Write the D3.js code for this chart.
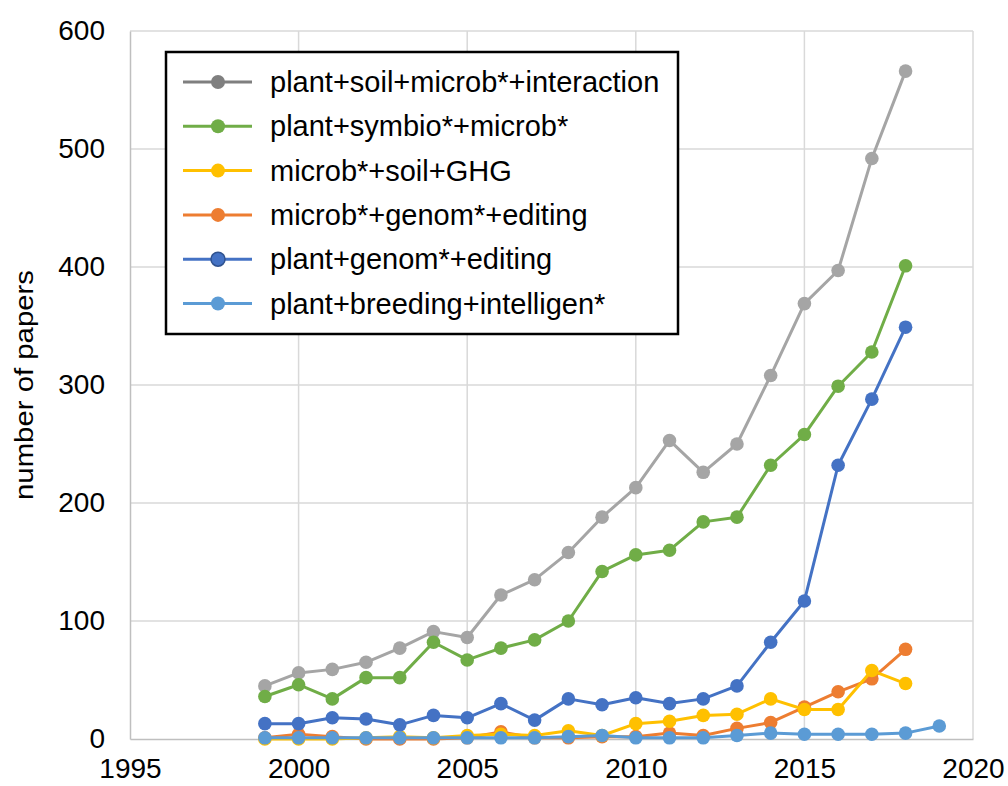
<!DOCTYPE html>
<html>
<head>
<meta charset="utf-8">
<script src="https://cdn.jsdelivr.net/npm/d3@7"></script>
<style>
  body { margin: 0; background: #fff; }
  text { font-family: "Liberation Sans", Arial, Helvetica, sans-serif; }
</style>
</head>
<body>
<div id="chart"></div>
<script>
// years and counts
var years = [1999, 2000, 2001, 2002, 2003, 2004, 2005, 2006, 2007, 2008,
             2009, 2010, 2011, 2012, 2013, 2014, 2015, 2016, 2017, 2018];
var yearsLong = years.concat([2019]);

var soilInteraction = [45, 56, 59, 65, 77, 91, 86, 122, 135, 158,
                       188, 213, 253, 226, 250, 308, 369, 397, 492, 566];
var symbioMicrob = [36, 46, 34, 52, 52, 82, 67, 77, 84, 100,
                    142, 156, 160, 184, 188, 232, 258, 299, 328, 401];
var soilGHG = [0, 0, 0, 1, 2, 1, 3, 4, 3, 7,
               3, 13, 15, 20, 21, 34, 25, 25, 58, 47];
var microbEditing = [1, 4, 2, 0, 0, 0, 1, 6, 1, 1,
                     2, 2, 5, 3, 9, 14, 27, 40, 51, 76];
var plantEditing = [13, 13, 18, 17, 12, 20, 18, 30, 16, 34,
                    29, 35, 30, 34, 45, 82, 117, 232, 288, 349];
var breedingIntel = [1, 1, 1, 1, 1, 1, 1, 1, 1, 2,
                     3, 1, 1, 1, 3, 5, 4, 4, 4, 5, 11];

var xTicks = [1995, 2000, 2005, 2010, 2015, 2020];
var yTicks = [0, 100, 200, 300, 400, 500, 600];

var series = [
  { name: 'plant+soil+microb*+interaction', x: years, y: soilInteraction, color: '#a5a5a5', key: '#7f7f7f' },
  { name: 'plant+symbio*+microb*', x: years, y: symbioMicrob, color: '#70ad47' },
  { name: 'microb*+genom*+editing', x: years, y: microbEditing, color: '#ed7d31' },
  { name: 'microb*+soil+GHG', x: years, y: soilGHG, color: '#ffc000' },
  { name: 'plant+genom*+editing', x: years, y: plantEditing, color: '#4472c4', ring: '#2f528f' },
  { name: 'plant+breeding+intelligen*', x: yearsLong, y: breedingIntel, color: '#5b9bd5' }
];
var legendOrder = [0, 1, 3, 2, 4, 5];

var width = 1008, height = 786;
var margin = { left: 130, right: 35, top: 31, bottom: 47 };

var svg = d3.select('#chart').append('svg')
  .attr('width', width).attr('height', height);

var x = d3.scaleLinear().domain([1995, 2020]).range([margin.left, width - margin.right]);
var y = d3.scaleLinear().domain([0, 600]).range([height - margin.bottom, margin.top]);

// grid
svg.append('g').selectAll('line.h').data(yTicks.slice(1)).enter().append('line')
  .attr('x1', x(1995)).attr('x2', x(2020))
  .attr('y1', function(d) { return y(d); }).attr('y2', function(d) { return y(d); })
  .attr('stroke', '#d9d9d9').attr('stroke-width', 1.5);
svg.append('g').selectAll('line.v').data(xTicks.slice(1)).enter().append('line')
  .attr('x1', function(d) { return x(d); }).attr('x2', function(d) { return x(d); })
  .attr('y1', y(0)).attr('y2', y(600))
  .attr('stroke', '#d9d9d9').attr('stroke-width', 1.5);

// axes
var xAxis = svg.append('g').attr('transform', 'translate(0,' + y(0) + ')')
  .call(d3.axisBottom(x).tickValues(xTicks).tickFormat(d3.format('d')).tickSize(0).tickPadding(19));
var yAxis = svg.append('g').attr('transform', 'translate(' + x(1995) + ',0)')
  .call(d3.axisLeft(y).tickValues(yTicks).tickSize(0).tickPadding(25));
[xAxis, yAxis].forEach(function(a) {
  a.select('.domain').attr('stroke', '#bfbfbf').attr('stroke-width', 1.5);
  a.selectAll('text').attr('font-size', 28).attr('fill', '#000')
    .attr('font-family', '"Liberation Sans", Arial, sans-serif');
});

svg.append('text')
  .attr('transform', 'translate(33,' + y(300) + ') rotate(-90)')
  .attr('text-anchor', 'middle').attr('font-size', 25)
  .attr('textLength', 230).attr('lengthAdjust', 'spacingAndGlyphs')
  .text('number of papers');

// lines and markers
var line = d3.line()
  .x(function(d) { return x(d[0]); })
  .y(function(d) { return y(d[1]); });

series.forEach(function(s) {
  var pts = s.x.map(function(yr, i) { return [yr, s.y[i]]; });
  var g = svg.append('g');
  g.append('path').datum(pts).attr('d', line)
    .attr('fill', 'none').attr('stroke', s.color).attr('stroke-width', 3)
    .attr('stroke-linejoin', 'round');
  g.selectAll('circle').data(pts).enter().append('circle')
    .attr('cx', function(d) { return x(d[0]); })
    .attr('cy', function(d) { return y(d[1]); })
    .attr('r', 6.8).attr('fill', s.color);
});

// legend
var lg = svg.append('g').attr('transform', 'translate(166,52)');
lg.append('rect').attr('width', 512).attr('height', 282)
  .attr('fill', '#fff').attr('stroke', '#000').attr('stroke-width', 2.5);
var rows = lg.selectAll('g.row').data(legendOrder.map(function(i) { return series[i]; }))
  .enter().append('g')
  .attr('transform', function(d, i) { return 'translate(0,' + (30 + i * 44.3) + ')'; });
rows.append('line').attr('x1', 17).attr('x2', 86)
  .attr('stroke', function(d) { return d.key || d.color; }).attr('stroke-width', 3);
rows.append('circle').attr('cx', 52).attr('r', 7)
  .attr('fill', function(d) { return d.key || d.color; })
  .attr('stroke', function(d) { return d.ring || 'none'; }).attr('stroke-width', 1.5);
rows.append('text').attr('x', 104).attr('dy', '0.35em')
  .attr('font-size', 29).text(function(d) { return d.name; });
</script>
</body>
</html>
